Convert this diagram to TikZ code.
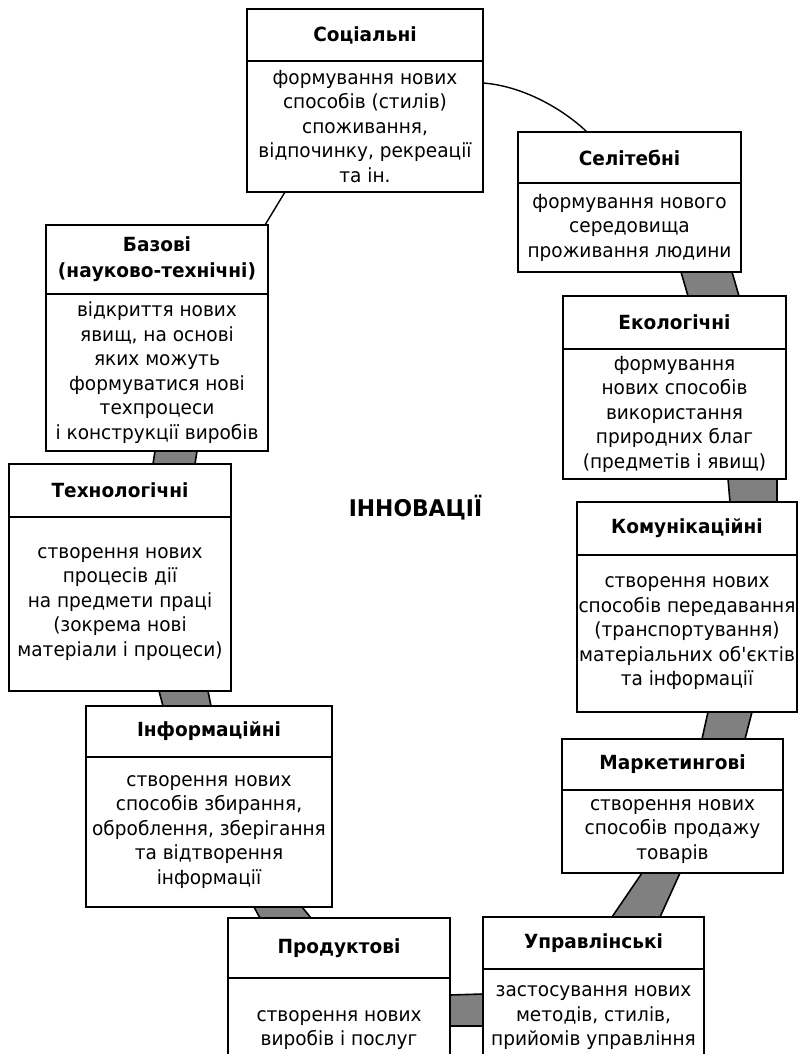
\documentclass[tikz,border=0pt]{standalone}
\usepackage{fontspec}
\setmainfont{DejaVu Sans}[FakeStretch=0.95]
\usetikzlibrary{positioning, calc, backgrounds}
\definecolor{bandgray}{RGB}{128,128,128}
\newcommand{\hdfont}{\fontsize{19.5}{26}\selectfont\bfseries}
\newcommand{\txtfont}{\fontsize{19.5}{24.5}\selectfont}

\begin{document}
\begin{tikzpicture}[
  x=1pt, y=-1pt,
  head/.style = {draw, fill=white, line width=1.8pt, anchor=north west, inner sep=0pt, outer sep=0pt, align=center, font=\hdfont},
  body/.style = {draw, fill=white, line width=1.8pt, inner sep=0pt, outer sep=0pt, align=center, font=\txtfont},
  band/.style = {fill=bandgray, draw=black, line width=1.6pt, line join=round},
  link/.style = {line width=1.4pt}
]
  \useasboundingbox (0,0) rectangle (799,1054);
  \clip (0,0) rectangle (799,1054);

  % top and right side
  \node[head, minimum width=236pt, minimum height=52pt] (soc) at (247,9) {Соціальні};
  \node[body, below=0pt of soc, minimum width=236pt, minimum height=131pt] (soc-b) {формування нових\\способів (стилів)\\споживання,\\відпочинку, рекреації\\та ін.};

  \node[head, minimum width=223pt, minimum height=51pt] (sel) at (518,132) {Селітебні};
  \node[body, below=0pt of sel, minimum width=223pt, minimum height=89pt] (sel-b) {формування нового\\середовища\\проживання людини};

  \node[head, minimum width=223pt, minimum height=53pt] (eko) at (563,296) {Екологічні};
  \node[body, below=0pt of eko, minimum width=223pt, minimum height=130pt] (eko-b) {формування\\нових способів\\використання\\природних благ\\(предметів і явищ)};

  \node[head, minimum width=220pt, minimum height=53pt] (kom) at (577,502) {Комунікаційні};
  \node[body, below=0pt of kom, minimum width=220pt, minimum height=157pt] (kom-b) {створення нових\\способів передавання\\(транспортування)\\матеріальних об\textquotesingle єктів\\та інформації};

  \node[head, minimum width=221pt, minimum height=51pt] (mar) at (562,739) {Маркетингові};
  \node[body, below=0pt of mar, minimum width=221pt, minimum height=83pt] (mar-b) {створення нових\\способів продажу\\товарів};

  \node[head, minimum width=221pt, minimum height=52pt] (upr) at (483,917) {Управлінські};
  \node[body, below=0pt of upr, minimum width=221pt, minimum height=98pt] (upr-b) {застосування нових\\методів, стилів,\\прийомів управління};

  % left side
  \node[head, minimum width=222pt, minimum height=69pt] (baz) at (46,225) {Базові\\(науково-технічні)};
  \node[body, below=0pt of baz, minimum width=222pt, minimum height=157pt] (baz-b) {відкриття нових\\явищ, на основі\\яких можуть\\формуватися нові\\техпроцеси\\і конструкції виробів};

  \node[head, minimum width=222pt, minimum height=53pt] (tex) at (9,464) {Технологічні};
  \node[body, below=0pt of tex, minimum width=222pt, minimum height=174pt] (tex-b) {створення нових\\процесів дії\\на предмети праці\\(зокрема нові\\матеріали і процеси)};

  \node[head, minimum width=246pt, minimum height=51pt] (inf) at (86,706) {Інформаційні};
  \node[body, below=0pt of inf, minimum width=246pt, minimum height=150pt] (inf-b) {створення нових\\способів збирання,\\оброблення, зберігання\\та відтворення\\інформації};

  \node[head, minimum width=222pt, minimum height=60pt] (pro) at (228,918) {Продуктові};
  \node[body, below=0pt of pro, minimum width=222pt, minimum height=104pt] (pro-b) {створення нових\\виробів і послуг};

  \node[font=\fontsize{23}{26}\selectfont\bfseries, anchor=base] (title) at (415.5,516) {ІННОВАЦІЇ};

  \begin{pgfonlayer}{background}
    \draw[link] ($(soc-b.south west)+(38,0)$) -- ($(baz.north west)+(219,0)$);
    \draw[link] ($(soc-b.north east)+(0,22)$) .. controls ($(soc-b.north east)+(40,25)$) and ($(sel.north west)+(45,-23)$) .. ($(sel.north west)+(69,0)$);
    \foreach \na/\xa/\xb/\nb/\ya/\yb in {sel-b/163/214/eko/125/176, eko-b/165/214/kom/153/200,
        kom-b/131/175/mar/140/183, mar-b/80/118/upr/129/177, baz-b/109/151/tex/144/186,
        tex-b/150/199/inf/77/125, inf-b/168/216/pro/32/83}
      \filldraw[band] ($(\na.south west)+(\xa,0)$) -- ($(\na.south west)+(\xb,0)$) -- ($(\nb.north west)+(\yb,0)$) -- ($(\nb.north west)+(\ya,0)$) -- cycle;
    \filldraw[band] ($(pro-b.north east)+(0,17)$) -- ($(upr-b.north west)+(0,25)$) -- ($(upr-b.north west)+(0,57)$) -- ($(pro-b.north east)+(0,48)$) -- cycle;
  \end{pgfonlayer}
\end{tikzpicture}
\end{document}
